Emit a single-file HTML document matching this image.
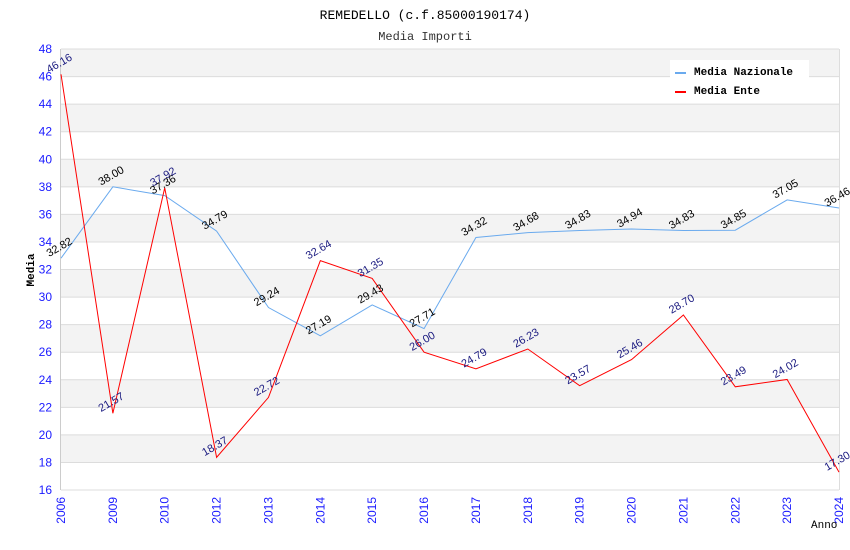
<!DOCTYPE html>
<html><head><meta charset="utf-8"><style>
body{margin:0;background:#fff}
svg{display:block}
</style></head><body>
<svg id="chart" width="850" height="550" xmlns="http://www.w3.org/2000/svg">
<text x="425" y="19" text-anchor="middle" font-family="Liberation Mono, monospace" font-size="13" fill="#000">REMEDELLO (c.f.85000190174)</text>
<text x="425" y="40" text-anchor="middle" font-family="Liberation Mono, monospace" font-size="12" fill="#333">Media Importi</text>
<g id="bands"></g>
<g id="axes"></g>
<g id="series"></g>
<g id="labels"></g>
<text transform="translate(34,270) rotate(-90)" text-anchor="middle" font-family="Liberation Mono, monospace" font-size="11" font-weight="bold">Media</text>
<text x="811" y="528" font-family="Liberation Mono, monospace" font-size="11">Anno</text>
<g>
<rect x="670" y="60" width="139" height="40" fill="#fff"/>
<rect x="675" y="72" width="11" height="2" fill="#6aaaee"/>
<text x="694" y="75" font-family="Liberation Mono, monospace" font-size="11" font-weight="bold">Media Nazionale</text>
<rect x="675" y="91" width="11" height="2" fill="#f00"/>
<text x="694" y="94" font-family="Liberation Mono, monospace" font-size="11" font-weight="bold">Media Ente</text>
</g>
</svg>
<script>
const categories=["2006","2009","2010","2012","2013","2014","2015","2016","2017","2018","2019","2020","2021","2022","2023","2024"];
const nazionale=[32.82,38.00,37.36,34.79,29.24,27.19,29.43,27.71,34.32,34.68,34.83,34.94,34.83,34.85,37.05,36.46];
const ente=[46.16,21.57,37.92,18.37,22.72,32.64,31.35,26.00,24.79,26.23,23.57,25.46,28.70,23.49,24.02,17.30];
const yTicks=[16,18,20,22,24,26,28,30,32,34,36,38,40,42,44,46,48];
const NS="http://www.w3.org/2000/svg";
const L=61,R=839,T=49,B=490,yMin=16,yMax=48;
const xs=i=>L+i*(R-L)/(categories.length-1);
const ys=v=>B-(v-yMin)/(yMax-yMin)*(B-T);
function mk(tag,attrs,parent){const e=document.createElementNS(NS,tag);for(const k in attrs)e.setAttribute(k,attrs[k]);parent.appendChild(e);return e;}
const bands=document.getElementById('bands'),axes=document.getElementById('axes'),series=document.getElementById('series'),labels=document.getElementById('labels');
for(let i=0;i<yTicks.length-1;i++){
  const top=ys(yTicks[i+1]),bot=ys(yTicks[i]);
  const r=mk('rect',{x:L,y:top,width:R-L,height:bot-top,fill:(i%2===1)?'#f3f3f3':'#fff'},bands);
  
  
}
yTicks.forEach(v=>{
  const g=mk('line',{x1:L,x2:R,y1:ys(v),y2:ys(v),stroke:'#dcdcdc','stroke-width':1},axes);
  
  
  const t=mk('text',{x:52,y:ys(v)+4,'text-anchor':'end','font-family':'Liberation Sans, sans-serif','font-size':12,fill:'#1a1aff'},axes);
  t.textContent=v;
  
  
});
mk('line',{x1:L-0.5,x2:L-0.5,y1:T,y2:B,stroke:'#ccc'},axes);
mk('line',{x1:R+0.5,x2:R+0.5,y1:T,y2:B,stroke:'#ddd'},axes);
categories.forEach((c,i)=>{
  const t=mk('text',{transform:`translate(${xs(i)+4},${497}) rotate(-90)`,'text-anchor':'end','font-family':'Liberation Sans, sans-serif','font-size':12,fill:'#1a1aff'},axes);
  t.textContent=c;
  
  
});
function drawSeries(data,color,labColor,name){
  const p=mk('polyline',{points:data.map((v,i)=>xs(i)+','+ys(v)).join(' '),fill:'none',stroke:color,'stroke-width':1},series);
  
  
  data.forEach((v,i)=>{
    const t=mk('text',{transform:`translate(${xs(i)},${ys(v)-8}) rotate(-30)`,'text-anchor':'middle','font-family':'Liberation Sans, sans-serif','font-size':11,fill:labColor},labels);
    t.textContent=v.toFixed(2);
    
    
  });
}
drawSeries(nazionale,'#6aaaee','#000','media-nazionale');
drawSeries(ente,'#f00','#1a1a80','media-ente');
</script>
</body></html>
